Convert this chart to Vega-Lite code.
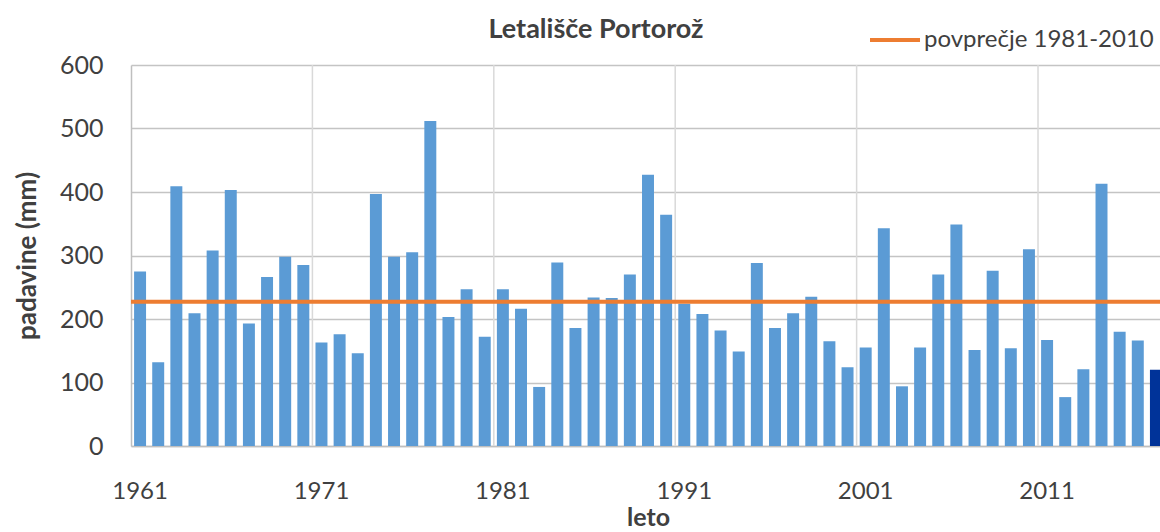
{
  "$schema": "https://vega.github.io/schema/vega-lite/v6.json",
  "width": 1034,
  "height": 381,
  "autosize": "none",
  "padding": {"left": 131, "top": 65, "right": 0, "bottom": 86},
  "background": "white",
  "config": {"font": "Lato", "view": {"stroke": null}},
  "title": {"text": "Letališče Portorož", "fontSize": 27, "fontWeight": "bold", "color": "#404040", "anchor": "middle", "frame": "group", "dx": -52, "offset": -31},
  "datasets": {
    "rain": [
      {"year": 1961, "mm": 275}, {"year": 1962, "mm": 132}, {"year": 1963, "mm": 409}, {"year": 1964, "mm": 209},
      {"year": 1965, "mm": 308}, {"year": 1966, "mm": 403}, {"year": 1967, "mm": 193}, {"year": 1968, "mm": 266},
      {"year": 1969, "mm": 298}, {"year": 1970, "mm": 285}, {"year": 1971, "mm": 163}, {"year": 1972, "mm": 176},
      {"year": 1973, "mm": 146}, {"year": 1974, "mm": 397}, {"year": 1975, "mm": 298}, {"year": 1976, "mm": 305},
      {"year": 1977, "mm": 512}, {"year": 1978, "mm": 203}, {"year": 1979, "mm": 247}, {"year": 1980, "mm": 172},
      {"year": 1981, "mm": 247}, {"year": 1982, "mm": 216}, {"year": 1983, "mm": 93}, {"year": 1984, "mm": 289},
      {"year": 1985, "mm": 186}, {"year": 1986, "mm": 234}, {"year": 1987, "mm": 233}, {"year": 1988, "mm": 270},
      {"year": 1989, "mm": 427}, {"year": 1990, "mm": 364}, {"year": 1991, "mm": 224}, {"year": 1992, "mm": 208},
      {"year": 1993, "mm": 182}, {"year": 1994, "mm": 149}, {"year": 1995, "mm": 288}, {"year": 1996, "mm": 186},
      {"year": 1997, "mm": 209}, {"year": 1998, "mm": 235}, {"year": 1999, "mm": 165}, {"year": 2000, "mm": 124},
      {"year": 2001, "mm": 155}, {"year": 2002, "mm": 343}, {"year": 2003, "mm": 94}, {"year": 2004, "mm": 155},
      {"year": 2005, "mm": 270}, {"year": 2006, "mm": 349}, {"year": 2007, "mm": 151}, {"year": 2008, "mm": 276},
      {"year": 2009, "mm": 154}, {"year": 2010, "mm": 310}, {"year": 2011, "mm": 167}, {"year": 2012, "mm": 77},
      {"year": 2013, "mm": 121}, {"year": 2014, "mm": 413}, {"year": 2015, "mm": 180}, {"year": 2016, "mm": 166},
      {"year": 2017, "mm": 120}
    ],
    "avg": [{"label": "povprečje 1981-2010", "mm": 227}]
  },
  "layer": [
    {
      "data": {"name": "rain"},
      "transform": [{"filter": "datum.year % 10 == 1 && datum.year > 1961"}],
      "mark": {"type": "rule", "color": "#d9d9d9", "strokeWidth": 1.5},
      "encoding": {
        "x": {
          "field": "year", "type": "ordinal", "bandPosition": 0,
          "axis": {
            "values": [1961, 1971, 1981, 1991, 2001, 2011],
            "labelAngle": 0, "labelFontSize": 24, "labelColor": "#404040", "labelPadding": 33,
            "ticks": false, "grid": false,
            "domainColor": "#bfbfbf", "domainWidth": 1.5,
            "title": "leto", "titleFontSize": 25, "titleFontWeight": "bold", "titleColor": "#404040", "titlePadding": 2
          }
        }
      }
    },
    {
      "data": {"name": "rain"},
      "mark": {"type": "bar", "width": {"band": 0.66}},
      "encoding": {
        "x": {
          "field": "year", "type": "ordinal",
          "scale": {"paddingInner": 0, "paddingOuter": 0},
          "axis": {
            "values": [1961, 1971, 1981, 1991, 2001, 2011],
            "labelAngle": 0, "labelFontSize": 24, "labelColor": "#404040", "labelPadding": 33,
            "ticks": false, "grid": false,
            "domainColor": "#bfbfbf", "domainWidth": 1.5,
            "title": "leto", "titleFontSize": 25, "titleFontWeight": "bold", "titleColor": "#404040", "titlePadding": 2
          }
        },
        "y": {
          "field": "mm", "type": "quantitative",
          "scale": {"domain": [0, 600], "nice": false},
          "axis": {
            "values": [0, 100, 200, 300, 400, 500, 600],
            "labelFontSize": 25, "labelColor": "#404040", "labelPadding": 28,
            "ticks": false, "grid": true, "gridColor": "#c4c4c4", "gridWidth": 1.5,
            "domainColor": "#bfbfbf", "domainWidth": 1.5,
            "title": "padavine (mm)", "titleFontSize": 26, "titleFontWeight": "bold", "titleColor": "#404040", "titlePadding": 19
          }
        },
        "color": {
          "condition": {"test": "datum.year === 2017", "value": "#003399"},
          "value": "#5B9BD5"
        }
      }
    },
    {
      "data": {"name": "avg"},
      "mark": {"type": "rule", "strokeWidth": 4},
      "encoding": {
        "y": {
          "field": "mm", "type": "quantitative",
          "axis": {
            "values": [0, 100, 200, 300, 400, 500, 600],
            "labelFontSize": 25, "labelColor": "#404040", "labelPadding": 28,
            "ticks": false, "grid": true, "gridColor": "#c4c4c4", "gridWidth": 1.5,
            "domainColor": "#bfbfbf", "domainWidth": 1.5,
            "title": "padavine (mm)", "titleFontSize": 26, "titleFontWeight": "bold", "titleColor": "#404040", "titlePadding": 19
          }
        },
        "color": {
          "field": "label", "type": "nominal",
          "scale": {"range": ["#ED7D31"]},
          "legend": {
            "title": null, "orient": "none", "legendX": 737, "legendY": -52, "padding": 0,
            "symbolType": "stroke", "symbolSize": 2500, "symbolStrokeWidth": 4,
            "labelFontSize": 24, "labelColor": "#404040", "labelOffset": 2, "labelLimit": 400
          }
        }
      }
    }
  ]
}
